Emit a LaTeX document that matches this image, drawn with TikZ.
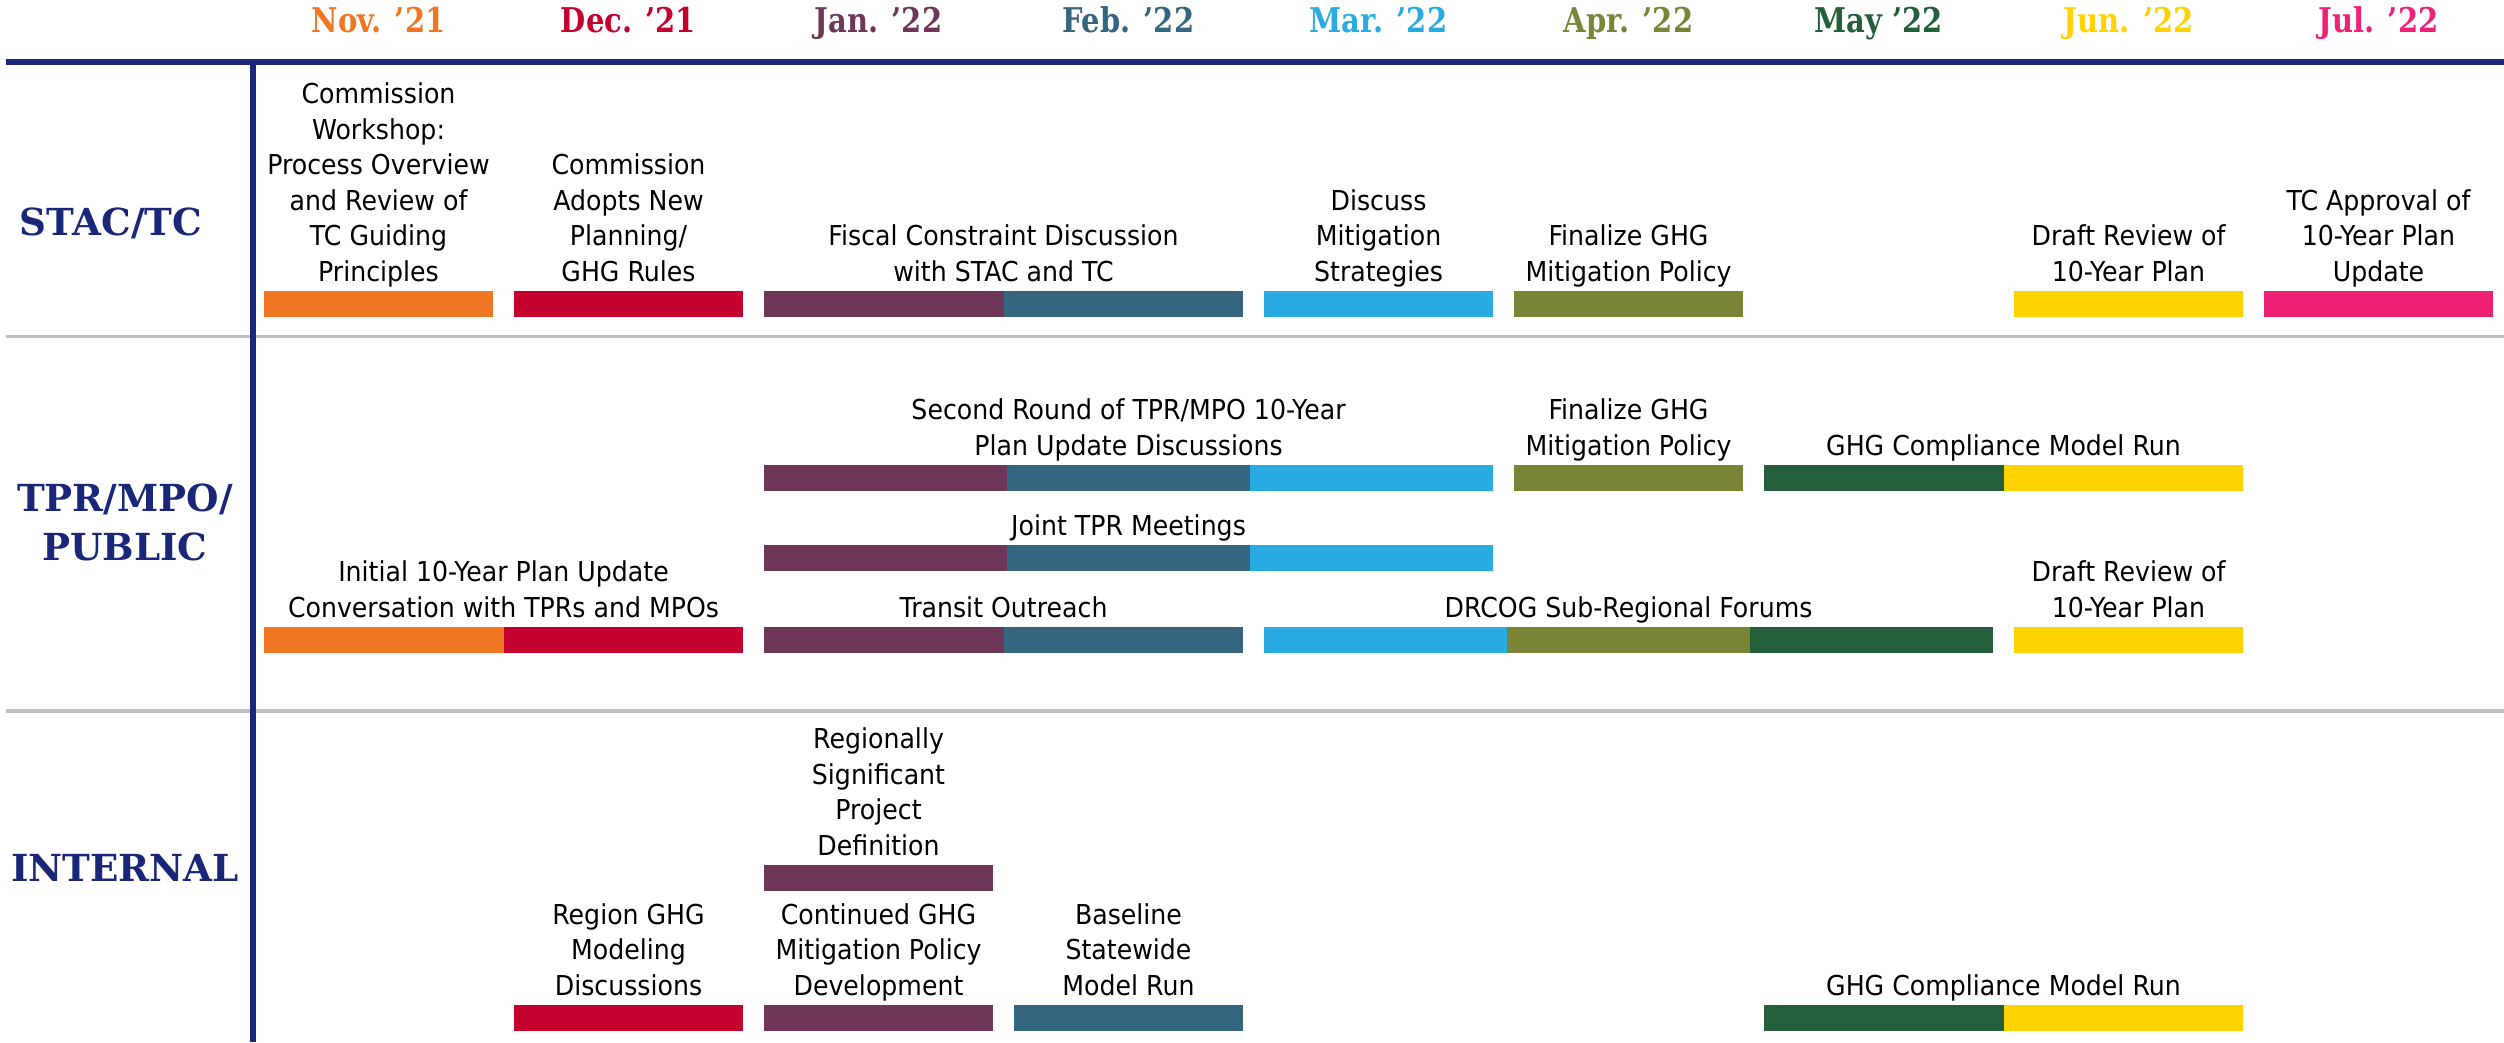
\documentclass[tikz,border=0pt]{standalone}
\usepackage{fontspec}
\setmainfont{DejaVu Sans}[FakeStretch=0.92]
\newfontfamily\monthfont{DejaVu Serif}[FakeStretch=0.85]
\newfontfamily\rowfont{DejaVu Serif}
\usetikzlibrary{positioning}

\definecolor{nov}{RGB}{239,118,34}
\definecolor{dec}{RGB}{196,0,47}
\definecolor{jan}{RGB}{110,55,89}
\definecolor{feb}{RGB}{53,102,128}
\definecolor{mar}{RGB}{41,170,225}
\definecolor{apr}{RGB}{122,132,55}
\definecolor{may}{RGB}{36,94,59}
\definecolor{jun}{RGB}{255,210,0}
\definecolor{jul}{RGB}{238,33,119}
\definecolor{navy}{RGB}{26,38,120}

\begin{document}
\begin{tikzpicture}[scale=1
        , month/.style={ font=\monthfont\bfseries\fontsize{9.7}{11}\selectfont, anchor=base }
        , row/.style={ font=\rowfont\bfseries\fontsize{10.6}{13.9}\selectfont, text=navy, align=center }
        , task/.style={ font=\fontsize{7.8}{10.1}\selectfont, align=center, anchor=south,
                        inner sep=1pt, execute at end node=\vphantom{p} }
        ]
        \useasboundingbox (0,0) rectangle (25.04,-10.42);

        \foreach \m/\c [count=\i from 0] in {Nov. ’21/nov, Dec. ’21/dec, Jan. ’22/jan,
                Feb. ’22/feb, Mar. ’22/mar, Apr. ’22/apr, May ’22/may, Jun. ’22/jun, Jul. ’22/jul}
            \node[month, text=\c] (m-\c) at (3.785+2.5*\i,-0.33) {\m};

        % grid: row separators, then the header rule and the label column
        \draw[black!25, line width=0.9pt] (0.06,-3.365) -- (25.04,-3.365);
        \draw[black!25, line width=0.9pt] (0.06,-7.11) -- (25.04,-7.11);
        \draw[navy, line width=1.9pt] (0.06,-0.62) -- (25.04,-0.62);
        \draw[navy, line width=1.5pt] (2.53,-0.62) -- (2.53,-10.42);

        \node[row, anchor=base] (stac) at (1.11,-2.35) {STAC/TC};
        \node[row] (tpr) at (1.25,-5.22) {TPR/MPO/\\PUBLIC};
        \node[row, anchor=base] (internal) at (1.25,-8.81) {INTERNAL};

        % STAC/TC
        \fill[nov] (2.64,-2.91) rectangle ++(2.29,-0.26);
        \node[task] (workshop) at (3.785,-2.91)
            {Commission\\Workshop:\\Process Overview\\and Review of\\TC Guiding\\Principles};
        \fill[dec] (5.14,-2.91) rectangle ++(2.29,-0.26);
        \node[task] (adopts) at (6.285,-2.91) {Commission\\Adopts New\\Planning/\\GHG Rules};
        \foreach \c [count=\j from 0] in {jan,feb}
            \fill[\c] (7.64+2.395*\j,-2.91) rectangle ++(2.395,-0.26);
        \node[task] (fiscal) at (10.035,-2.91) {Fiscal Constraint Discussion\\with STAC and TC};
        \fill[mar] (12.64,-2.91) rectangle ++(2.29,-0.26);
        \node[task] (discuss) at (13.785,-2.91) {Discuss\\Mitigation\\Strategies};
        \fill[apr] (15.14,-2.91) rectangle ++(2.29,-0.26);
        \node[task] (finalize1) at (16.285,-2.91) {Finalize GHG\\Mitigation Policy};
        \fill[jun] (20.14,-2.91) rectangle ++(2.29,-0.26);
        \node[task] (draft1) at (21.285,-2.91) {Draft Review of\\10-Year Plan};
        \fill[jul] (22.64,-2.91) rectangle ++(2.29,-0.26);
        \node[task] (approval) at (23.785,-2.91) {TC Approval of\\10-Year Plan\\Update};

        % TPR/MPO/PUBLIC
        \foreach \c [count=\j from 0] in {jan,feb,mar}
            \fill[\c] (7.64+2.43*\j,-4.65) rectangle ++(2.43,-0.26);
        \node[task] (second) at (11.285,-4.65) {Second Round of TPR/MPO 10-Year\\Plan Update Discussions};
        \fill[apr] (15.14,-4.65) rectangle ++(2.29,-0.26);
        \node[task] (finalize2) at (16.285,-4.65) {Finalize GHG\\Mitigation Policy};
        \foreach \c [count=\j from 0] in {may,jun}
            \fill[\c] (17.64+2.395*\j,-4.65) rectangle ++(2.395,-0.26);
        \node[task] (compliance1) at (20.035,-4.65) {GHG Compliance Model Run};

        \foreach \c [count=\j from 0] in {jan,feb,mar}
            \fill[\c] (7.64+2.43*\j,-5.45) rectangle ++(2.43,-0.26);
        \node[task] (joint) at (11.285,-5.45) {Joint TPR Meetings};

        \foreach \c [count=\j from 0] in {nov,dec}
            \fill[\c] (2.64+2.395*\j,-6.27) rectangle ++(2.395,-0.26);
        \node[task] (initial) at (5.035,-6.27) {Initial 10-Year Plan Update\\Conversation with TPRs and MPOs};
        \foreach \c [count=\j from 0] in {jan,feb}
            \fill[\c] (7.64+2.395*\j,-6.27) rectangle ++(2.395,-0.26);
        \node[task] (transit) at (10.035,-6.27) {Transit Outreach};
        \foreach \c [count=\j from 0] in {mar,apr,may}
            \fill[\c] (12.64+2.43*\j,-6.27) rectangle ++(2.43,-0.26);
        \node[task] (drcog) at (16.285,-6.27) {DRCOG Sub-Regional Forums};
        \fill[jun] (20.14,-6.27) rectangle ++(2.29,-0.26);
        \node[task] (draft2) at (21.285,-6.27) {Draft Review of\\10-Year Plan};

        % INTERNAL
        \fill[jan] (7.64,-8.65) rectangle ++(2.29,-0.26);
        \node[task] (regional) at (8.785,-8.65) {Regionally\\Significant\\Project\\Definition};
        \fill[dec] (5.14,-10.05) rectangle ++(2.29,-0.26);
        \node[task] (modeling) at (6.285,-10.05) {Region GHG\\Modeling\\Discussions};
        \fill[jan] (7.64,-10.05) rectangle ++(2.29,-0.26);
        \node[task] (continued) at (8.785,-10.05) {Continued GHG\\Mitigation Policy\\Development};
        \fill[feb] (10.14,-10.05) rectangle ++(2.29,-0.26);
        \node[task] (baseline) at (11.285,-10.05) {Baseline\\Statewide\\Model Run};
        \foreach \c [count=\j from 0] in {may,jun}
            \fill[\c] (17.64+2.395*\j,-10.05) rectangle ++(2.395,-0.26);
        \node[task] (compliance2) at (20.035,-10.05) {GHG Compliance Model Run};

    \end{tikzpicture}
\end{document}
